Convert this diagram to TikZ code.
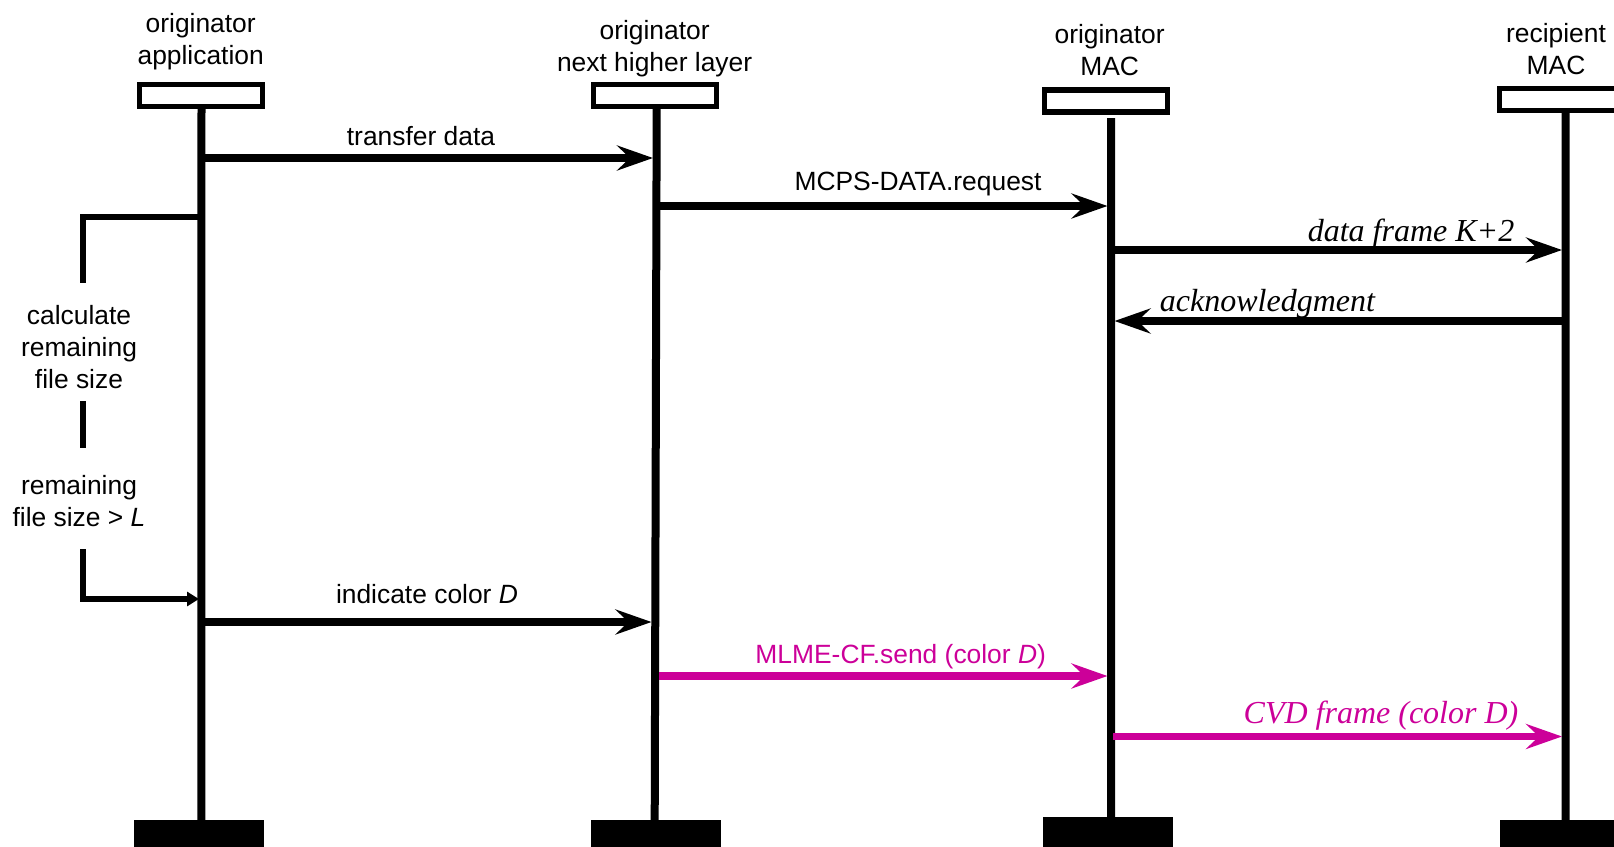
\documentclass[tikz,border=0pt]{standalone}
\usepackage{fontspec}
\setmainfont{Liberation Sans}
\newfontfamily\msgserif{Liberation Serif}
\usetikzlibrary{arrows.meta}
\definecolor{cfmagenta}{RGB}{204,0,153}
\begin{document}
\begin{tikzpicture}[x=0.5pt,y=-0.5pt,
  every node/.style={inner sep=0pt,outer sep=0pt},
  headbox/.style={draw,line width=2.7pt,fill=white,minimum width=61.5pt,minimum height=11pt},
  footbox/.style={fill=black,minimum width=65pt,minimum height=20pt},
  lifeline/.style={line width=4pt},
  msg/.style={line width=3.75pt,-{Stealth[length=18pt,width=12.5pt,inset=6.5pt]}},
  cfmsg/.style={msg,draw=cfmagenta},
  bracket/.style={line width=2.6pt,line join=miter},
  head/.style={align=center,font=\fontsize{13.2}{16}\selectfont},
  lbl/.style={font=\fontsize{13.2}{16}\selectfont},
  itl/.style={font=\fontsize{16}{19}\msgserif\itshape},
]
\clip (0,0) rectangle (1614,847);
\useasboundingbox (0,0) rectangle (1614,847);

% participant heads
\node[head] (nA) at (200.7,41.3) {originator\\application};
\node[head] (nN) at (654.6,48.5) {originator\\next higher layer};
\node[head] (nM) at (1109.6,50.4) {originator\\MAC};
\node[head] (nR) at (1556,49.4) {recipient\\MAC};

\node[headbox] (hA) at (201,95.5) {};
\node[headbox] (hN) at (655,95.5) {};
\node[headbox] (hM) at (1106,101) {};
\node[headbox] (hR) at (1561,99.5) {};

% participant feet
\node[footbox] (fA) at (199,840) {};
\node[footbox] (fN) at (655.5,840) {};
\node[footbox] (fM) at (1108,837) {};
\node[footbox] (fR) at (1565,840) {};

% lifelines
\coordinate (tA) at (201.5,108);  \coordinate (bA) at (201.3,821);
\coordinate (tN) at (656.7,108);  \coordinate (bN) at (654.7,821);
\coordinate (tM) at (1111.2,118); \coordinate (bM) at (1111,818);
\coordinate (tR) at (1565.7,112); \coordinate (bR) at (1565.5,821);
\draw[lifeline] (tA) -- (bA);
\draw[lifeline] (tN) -- (bN);
\draw[lifeline] (tM) -- (bM);
\draw[lifeline] (tR) -- (bR);

% messages
\coordinate (m1a) at (203.5,158);  \coordinate (m1b) at (653,158);
\coordinate (m2a) at (658.5,206);  \coordinate (m2b) at (1107.5,206);
\coordinate (m3a) at (1113,250);   \coordinate (m3b) at (1562,250);
\coordinate (m4a) at (1563.5,321); \coordinate (m4b) at (1114.5,321);
\coordinate (m5a) at (203.5,622);  \coordinate (m5b) at (651.5,622);
\coordinate (m6a) at (659,676);    \coordinate (m6b) at (1107.5,676);
\coordinate (m7a) at (1113,736.5); \coordinate (m7b) at (1562,736.5);

\draw[msg] (m1a) -- (m1b);
\node[lbl] (l1) at (421,136) {transfer data};
\draw[msg] (m2a) -- (m2b);
\node[lbl] (l2) at (918,184) {MCPS-DATA.request};
\draw[msg] (m3a) -- (m3b);
\node[itl] (l3) at (1411,234) {data frame K+2};
\draw[msg] (m4a) -- (m4b);
\node[itl] (l4) at (1267.5,304) {acknowledgment};
\draw[msg] (m5a) -- (m5b);
\node[lbl] (l5) at (427,594) {indicate color \textit{D}};
\draw[cfmsg] (m6a) -- (m6b);
\node[lbl,text=cfmagenta] (l6) at (900.7,657) {MLME-CF.send (color \textit{D})};
\draw[cfmsg] (m7a) -- (m7b);
\node[itl,text=cfmagenta] (l7) at (1381,716) {CVD frame (color D)};

% local decision on the application lifeline
\node[head] (c1) at (79,347) {calculate\\remaining\\file size};
\node[head] (c2) at (79,501.5) {remaining\\file size > \textit{L}};
\coordinate (k0) at (199.5,217);
\coordinate (k1) at (83,217);
\coordinate (k2) at (83,283);
\coordinate (k3) at (83,401);
\coordinate (k4) at (83,448);
\coordinate (k5) at (83,549);
\coordinate (k6) at (83,599);
\coordinate (k7) at (199,599);
\draw[bracket] (k0) -- (k1) -- (k2);
\draw[bracket] (k3) -- (k4);
\draw[bracket,-{Triangle[length=6pt,width=7pt]}] (k5) -- (k6) -- (k7);
\end{tikzpicture}
\end{document}
